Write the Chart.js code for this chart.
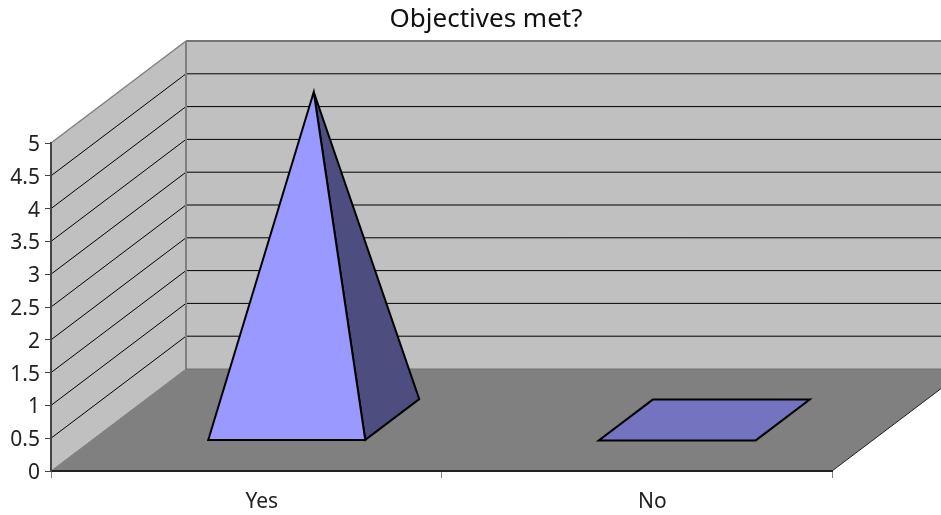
<!DOCTYPE html>
<html>
<head>
    <meta charset="UTF-8">
    <title>Objectives met?</title>
    <script src="https://cdn.jsdelivr.net/npm/chart.js"></script>
    <style>
        html, body { margin: 0; padding: 0; background: #fff; overflow: hidden; }
        canvas { display: block; }
    </style>
</head>
<body>
    <canvas id="chart" width="941" height="515"></canvas>

    <script>
        const categories = ['Yes', 'No'];
        const values = [5, 0];
        const chartTitle = 'Objectives met?';

        // 3D look: how far the back wall sits from the front plane, in pixels
        const depthX = 135;
        const depthY = -102;
        const barFront = 0.3;
        const barBack = 0.7;

        function poly(ctx, pts, fill, stroke, lw) {
            ctx.beginPath();
            pts.forEach((p, i) => i ? ctx.lineTo(p[0], p[1]) : ctx.moveTo(p[0], p[1]));
            ctx.closePath();
            if (fill) { ctx.fillStyle = fill; ctx.fill(); }
            if (stroke) { ctx.strokeStyle = stroke; ctx.lineWidth = lw; ctx.lineJoin = 'miter'; ctx.stroke(); }
        }

        function seg(ctx, x1, y1, x2, y2, color, lw) {
            ctx.beginPath();
            ctx.moveTo(x1, y1);
            ctx.lineTo(x2, y2);
            ctx.strokeStyle = color;
            ctx.lineWidth = lw;
            ctx.stroke();
        }

        const walls3d = {
            id: 'walls3d',
            afterLayout(chart) {
                // title sits right of the page centre in the original
                chart.titleBlock.left = 140;
            },
            beforeDraw(chart) {
                const ctx = chart.ctx;
                const { left, right, top, bottom } = chart.chartArea;
                const backL = left + depthX, backR = right + depthX;
                const backT = top + depthY, backB = bottom + depthY;
                ctx.save();
                // back wall, side wall, floor
                poly(ctx, [[backL, backT], [backR, backT], [backR, backB], [backL, backB]], '#C0C0C0');
                poly(ctx, [[left, top], [backL, backT], [backL, backB], [left, bottom]], '#C0C0C0');
                poly(ctx, [[left, bottom], [right, bottom], [backR, backB], [backL, backB]], '#808080');

                // gridlines run across side wall and back wall
                chart.scales.y.ticks.forEach(t => {
                    const y = chart.scales.y.getPixelForValue(t.value);
                    if (t.value === 0) return;
                    if (y === top) return;
                    seg(ctx, left, y, backL, y + depthY, '#000', 1);
                    seg(ctx, backL, y + depthY, backR, y + depthY, '#000', 1);
                });

                seg(ctx, left, top, backL, backT, '#808080', 1.5);
                seg(ctx, backL, backT, backR, backT, '#757575', 2);
                seg(ctx, backL, backT, backL, backB, '#808080', 2);
                seg(ctx, backL, backB, backR, backB, '#707070', 1);
                seg(ctx, left, bottom, backL, backB, '#808080', 1);
                seg(ctx, right, bottom, backR, backB, '#222', 1);
                ctx.restore();
            },
            afterDatasetsDraw(chart) {
                const ctx = chart.ctx;
                const bars = chart.getDatasetMeta(0).data;
                ctx.save();
                bars.forEach(bar => {
                    const xl = bar.x - bar.width / 2, xr = bar.x + bar.width / 2;
                    const fl = [xl + depthX * barFront, bar.base + depthY * barFront];
                    const fr = [xr + depthX * barFront, bar.base + depthY * barFront];
                    const br = [xr + depthX * barBack, bar.base + depthY * barBack];
                    const bl = [xl + depthX * barBack, bar.base + depthY * barBack];
                    const mid = (barFront + barBack) / 2;
                    const apex = [bar.x + depthX * mid, bar.y + depthY * mid];
                    if (Math.abs(bar.base - bar.y) < 0.5) {
                        poly(ctx, [fl, fr, br, bl], '#7373BF', '#000', 2);
                    } else {
                        poly(ctx, [fr, br, apex], '#4D4D80', '#000', 2);
                        poly(ctx, [fl, fr, apex], '#9999FF', '#000', 2);
                    }
                });
                ctx.restore();
            }
        };

        new Chart(document.getElementById('chart'), {
            type: 'bar',
            data: {
                labels: categories,
                datasets: [{
                    data: values,
                    backgroundColor: 'rgba(0,0,0,0)',
                    barPercentage: 0.402,
                    categoryPercentage: 1
                }]
            },
            options: {
                responsive: false,
                animation: false,
                devicePixelRatio: 1,
                layout: { padding: { right: 109, bottom: 0 } },
                plugins: {
                    legend: { display: false },
                    tooltip: { enabled: false },
                    title: {
                        display: true,
                        text: chartTitle,
                        color: '#111',
                        font: { family: '"Noto Sans"', size: 26, weight: 'normal', lineHeight: 1.2 },
                        padding: { top: 4, bottom: 107.8 }
                    }
                },
                scales: {
                    x: {
                        afterFit(scale) { scale.height = 44; },
                        grid: { drawOnChartArea: false, offset: true, tickLength: 7, tickColor: '#808080', tickWidth: 1 },
                        border: { color: '#222', width: 2 },
                        ticks: { color: '#222', padding: 11, labelOffset: 15.5, font: { family: '"Noto Sans"', size: 21 } }
                    },
                    y: {
                        min: 0,
                        max: 5,
                        afterFit(scale) { scale.width = 51; },
                        grid: { drawOnChartArea: false, tickLength: 6, tickColor: '#444', tickWidth: 1 },
                        border: { color: '#444', width: 2 },
                        ticks: {
                            stepSize: 0.5,
                            color: '#222',
                            padding: 5,
                            labelOffset: 2,
                            font: { family: '"Noto Sans"', size: 21 },
                            callback: v => String(v)
                        }
                    }
                }
            },
            plugins: [walls3d]
        });
    </script>
</body>
</html>
